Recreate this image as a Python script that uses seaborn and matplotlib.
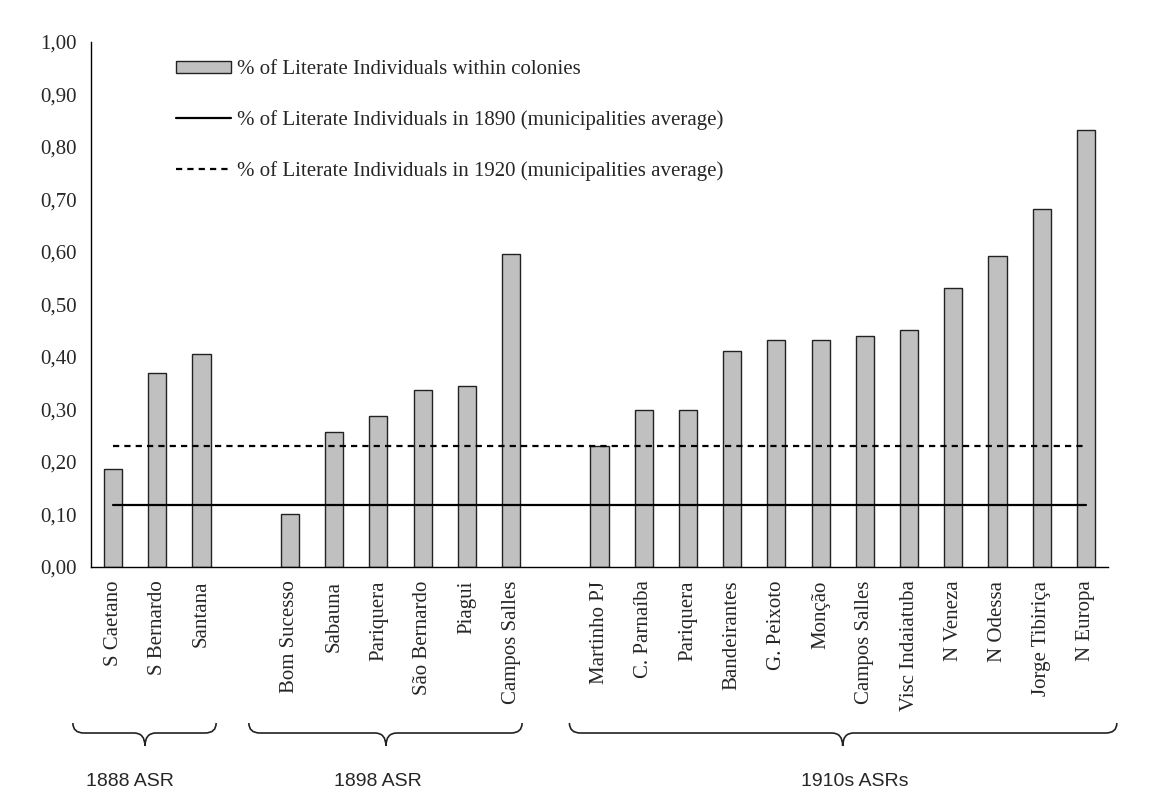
import matplotlib
matplotlib.use("Agg")
import matplotlib.pyplot as plt
import matplotlib.transforms as mtransforms
from matplotlib.path import Path
from matplotlib.patches import PathPatch, Patch
from matplotlib.lines import Line2D
from matplotlib.ticker import FuncFormatter, MultipleLocator
import numpy as np
import pandas as pd
import seaborn as sns

# colonies by settlement wave
group_names = ["1888 ASR", "1898 ASR", "1910s ASRs"]
colonies_1888 = ["S Caetano", "S Bernardo", "Santana"]
literacy_1888 = [0.187, 0.369, 0.406]
colonies_1898 = ["Bom Sucesso", "Sabauna", "Pariquera", "São Bernardo", "Piagui", "Campos Salles"]
literacy_1898 = [0.100, 0.256, 0.288, 0.336, 0.345, 0.595]
colonies_1910s = ["Martinho PJ", "C. Parnaíba", "Pariquera", "Bandeirantes", "G. Peixoto", "Monção",
                  "Campos Salles", "Visc Indaiatuba", "N Veneza", "N Odessa", "Jorge Tibiriça", "N Europa"]
literacy_1910s = [0.229, 0.299, 0.299, 0.411, 0.431, 0.431, 0.440, 0.450, 0.531, 0.591, 0.682, 0.832]
avg_1890 = 0.118
avg_1920 = 0.230

bar_label = "% of Literate Individuals within colonies"
line_1890_label = "% of Literate Individuals in 1890 (municipalities average)"
line_1920_label = "% of Literate Individuals in 1920 (municipalities average)"

# brace layout in category units: (left, right, tip, text centre)
BRACES = [(-0.91, 2.33, 0.72, 0.38), (3.07, 9.25, 6.17, 5.99), (10.32, 22.70, 16.5, 16.78)]
DASHES = (2.8, 2.3)


def build_frame() -> pd.DataFrame:
    labels, values = [], []
    for i, (names, vals) in enumerate([(colonies_1888, literacy_1888),
                                       (colonies_1898, literacy_1898),
                                       (colonies_1910s, literacy_1910s)]):
        if i > 0:
            labels.append("")
            values.append(np.nan)
        labels.extend(names)
        values.extend(vals)
    return pd.DataFrame({"slot": range(len(labels)), "label": labels, "literacy": values})


def draw_brace(fig, ax, x0, x1, xt, r=0.25):
    trans = mtransforms.blended_transform_factory(ax.transData, fig.transFigure)
    top, mid, tip = 1 - 723 / 798, 1 - 733 / 798, 1 - 746 / 798
    verts = [(x0, top), (x0, mid), (x0 + r, mid), (xt - r, mid), (xt, mid), (xt, tip),
             (xt, mid), (xt + r, mid), (x1 - r, mid), (x1, mid), (x1, top)]
    codes = [Path.MOVETO, Path.CURVE3, Path.CURVE3, Path.LINETO, Path.CURVE3, Path.CURVE3,
             Path.CURVE3, Path.CURVE3, Path.LINETO, Path.CURVE3, Path.CURVE3]
    patch = PathPatch(Path(verts, codes), transform=trans, fill=False, lw=1.2,
                      edgecolor="#222222", clip_on=False)
    fig.add_artist(patch)


df = build_frame()
n = len(df)

sns.set_style("white")
plt.rcParams["font.family"] = ["Liberation Serif", "DejaVu Serif"]

fig = plt.figure(figsize=(11.56, 7.98), dpi=100)
ax = fig.add_axes([91 / 1156, 1 - 566.7 / 798, (1108 - 91) / 1156, (566.7 - 41.7) / 798])

sns.barplot(data=df, x="slot", y="literacy", order=list(range(n)), color="#c0c0c0",
            saturation=1, width=0.41, edgecolor="#222222", linewidth=1.0, ax=ax)

first, last = df["slot"].iloc[0], df["slot"].iloc[-1]
ax.plot([first, last], [avg_1890, avg_1890], color="black", lw=1.6)
ax.plot([first, last - 0.07], [avg_1920, avg_1920], color="black", lw=1.6, dashes=DASHES)

ax.set_xlim(-0.5, n - 0.5)
ax.set_ylim(0, 1.0)
ax.yaxis.set_major_locator(MultipleLocator(0.1))
ax.yaxis.set_major_formatter(FuncFormatter(lambda v, _: f"{v:.2f}".replace(".", ",")))
ax.set_xticks(df["slot"], df["label"], rotation=90)
ax.set_xticks(np.arange(-0.5, n, 1.0), minor=True)
ax.tick_params(axis="x", which="major", length=0, pad=10, labelsize=15)
ax.tick_params(axis="x", which="minor", direction="in", length=4, width=1, color="black")
ax.tick_params(axis="y", direction="inout", length=8, width=1, color="black", pad=6, labelsize=15)
ax.set_xlabel("")
ax.set_ylabel("")
for side in ["top", "right"]:
    ax.spines[side].set_visible(False)
for side in ["left", "bottom"]:
    ax.spines[side].set_color("black")
    ax.spines[side].set_linewidth(1.0)

handles = [Patch(facecolor="#c0c0c0", edgecolor="#222222", lw=1.0),
           Line2D([], [], color="black", lw=1.6),
           Line2D([], [], color="black", lw=1.6, dashes=DASHES)]
ax.legend(handles, [bar_label, line_1890_label, line_1920_label], loc="upper left",
          bbox_to_anchor=(168 / 1156, 1 - 52 / 798), bbox_transform=fig.transFigure,
          frameon=False, fontsize=15, handlelength=2.6, handleheight=0.5,
          handletextpad=0.3, labelspacing=1.48, borderaxespad=0)

text_trans = mtransforms.blended_transform_factory(ax.transData, fig.transFigure)
for name, (x0, x1, xt, xc) in zip(group_names, BRACES):
    draw_brace(fig, ax, x0, x1, xt)
    ax.text(xc, 1 - 782 / 798, name, transform=text_trans, ha="center", va="center",
            fontsize=14, family=["Liberation Sans", "DejaVu Sans"], clip_on=False)

fig.savefig("out.png", dpi=100)
plt.close(fig)
